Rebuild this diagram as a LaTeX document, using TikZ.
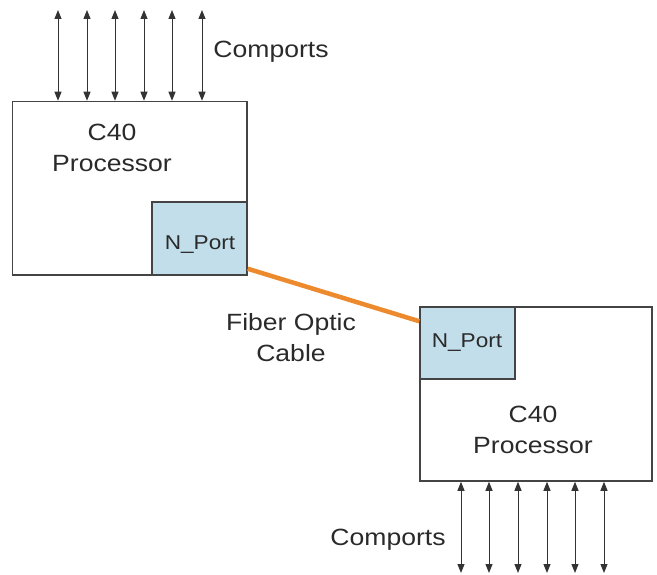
\documentclass[tikz,border=0pt]{standalone}
\usepackage{fontspec}
\setmainfont[FakeStretch=1.13]{Liberation Sans}
\usetikzlibrary{arrows.meta,calc}
\definecolor{portblue}{HTML}{C2DEEA}
\definecolor{boxgray}{HTML}{444444}
\definecolor{txtgray}{HTML}{2A2A2A}
\definecolor{cable}{HTML}{EE8A2E}
\begin{document}
\begin{tikzpicture}[x=1pt,y=-1pt,
  proc/.style={draw=boxgray,line width=1.5pt,fill=white},
  port/.style={draw=boxgray,line width=1.5pt,fill=portblue},
  lbl/.style={text=txtgray,font=\fontsize{23.5}{31}\selectfont,align=center,inner sep=0pt},
  plbl/.style={text=txtgray,font=\fontsize{20}{24}\selectfont,inner sep=0pt},
  arr/.style={draw=black!80,line width=1pt,{Triangle[length=9pt,width=7pt]}-{Triangle[length=9pt,width=7pt]}},
  fiber/.style={draw=cable,line width=4.5pt}]
\useasboundingbox (0,0) rectangle (657,575);
% top processor
\node[proc,minimum width=234.5pt,minimum height=173.5pt,inner sep=0pt] (p1) at (129.75,188.25) {};
\node[port,minimum width=95pt,minimum height=73pt,inner sep=0pt] (np1) at (199.5,238.5) {};
\node[lbl] (t1) at (112,148) {C40\\Processor};
\node[plbl] (n1) at (200,245) {N\_Port};
% bottom processor
\node[proc,minimum width=232pt,minimum height=174pt,inner sep=0pt] (p2) at (536,394) {};
\node[port,minimum width=95pt,minimum height=72pt,inner sep=0pt] (np2) at (467.5,343) {};
\node[lbl] (t2) at (533,430) {C40\\Processor};
\node[plbl] (n2) at (467,343) {N\_Port};
% cable
\draw[fiber] ([yshift=7pt]np1.south east) -- ([yshift=-15pt]np2.north west);
\node[lbl] (fo) at (291,338) {Fiber Optic\\Cable};
% comports
\foreach \x [count=\i] in {58,87,115,144,172,202}{
  \coordinate (ta\i) at (\x,10);
  \draw[arr] (ta\i) -- (ta\i |- p1.north);
}
\foreach \x [count=\i] in {461,489,518,547,575,604}{
  \coordinate (ba\i) at (\x,573);
  \draw[arr] (ba\i |- p2.south) -- (ba\i);
}
\node[lbl] (c1) at (271,52) {Comports};
\node[lbl] (c2) at (388,540) {Comports};
\end{tikzpicture}
\end{document}
